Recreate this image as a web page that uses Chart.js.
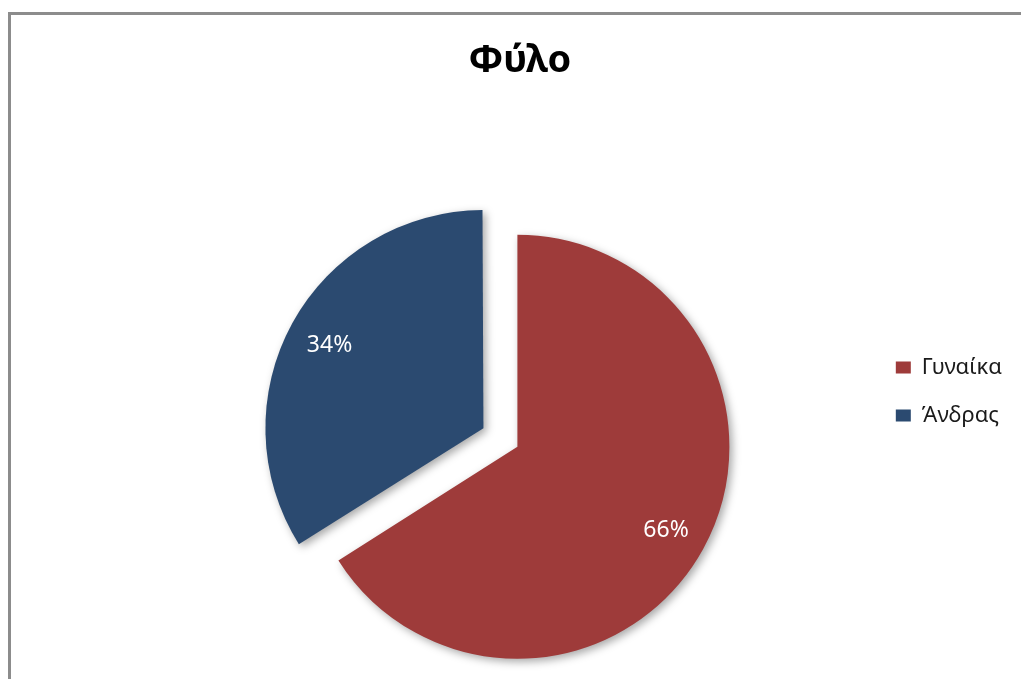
<!DOCTYPE html>
<html>
<head>
<meta charset="utf-8">
<script src="https://cdn.jsdelivr.net/npm/chart.js@4.4.0/dist/chart.umd.min.js"></script>
<style>
  html, body { margin: 0; padding: 0; background: #fff; overflow: hidden; }
  #wrap { position: absolute; left: 28px; top: 0; width: 984px; height: 679px; }
  #frame { position: absolute; left: 8px; top: 12px; width: 1100px; height: 800px;
           border-top: 3px solid #8c8c8c; border-left: 3px solid #8c8c8c; pointer-events: none; }
</style>
</head>
<body>
<div id="wrap"><canvas id="chart" width="984" height="679"></canvas></div>
<div id="frame"></div>
<script>
// Φύλο - κατανομή (%)
const categories = ['Γυναίκα', 'Άνδρας'];
const shares = [66, 34];

// sombra + etiquetas de porcentaje dentro de cada porción
const sliceDecor = {
    id: 'sliceDecor',
    beforeDatasetsDraw(chart) {
        const c = chart.ctx;
        c.save();
        c.shadowColor = 'rgba(0,0,0,0.35)';
        c.shadowBlur = 8;
        c.shadowOffsetX = 3;
        c.shadowOffsetY = 3;
    },
    afterDatasetsDraw(chart) {
        const c = chart.ctx;
        c.restore();
        const meta = chart.getDatasetMeta(0);
        c.save();
        c.fillStyle = '#fff';
        c.font = '23px "Noto Sans"';
        c.textAlign = 'center';
        c.textBaseline = 'middle';
        meta.data.forEach((arc, i) => {
            const p = arc.getProps(['x', 'y', 'startAngle', 'endAngle', 'outerRadius', 'circumference'], true);
            const mid = (p.startAngle + p.endAngle) / 2;
            // mismo desplazamiento que aplica ArcElement.draw
            const fix = 1 - Math.sin(Math.min(Math.PI, p.circumference || 0));
            const shift = (arc.options.offset || 0) / 4 * (1 + fix);
            const d = shift + p.outerRadius * 0.8;
            c.fillText(shares[i] + '%', p.x + Math.cos(mid) * d, p.y + Math.sin(mid) * d + 2);
        });
        c.restore();
    }
};

new Chart(document.getElementById('chart'), {
    type: 'pie',
    data: {
        labels: categories,
        datasets: [{
            data: shares,
            backgroundColor: ['#9e3b3a', '#2b4a70'],
            borderWidth: 0,
            offset: [0, 155],
            clip: false
        }]
    },
    options: {
        responsive: false,
        animation: false,
        radius: 212,
        layout: { padding: { bottom: 116 } },
        plugins: {
            title: {
                display: true,
                text: 'Φύλο',
                color: '#000',
                font: { family: 'Noto Sans', size: 38, weight: 'bold' },
                padding: { top: 38, bottom: 247 }
            },
            // hueco invisible a la izquierda para centrar el pastel
            subtitle: {
                display: true,
                position: 'left',
                text: '',
                font: { size: 10 },
                padding: { top: 0, bottom: 125 }
            },
            legend: {
                position: 'right',
                align: 'start',
                fullSize: false,
                labels: {
                    boxWidth: 15,
                    boxHeight: 12,
                    padding: 26,
                    color: '#1a1a1a',
                    font: { family: 'Noto Sans', size: 22 }
                }
            },
            tooltip: { enabled: false }
        }
    },
    plugins: [sliceDecor]
});
</script>
</body>
</html>
